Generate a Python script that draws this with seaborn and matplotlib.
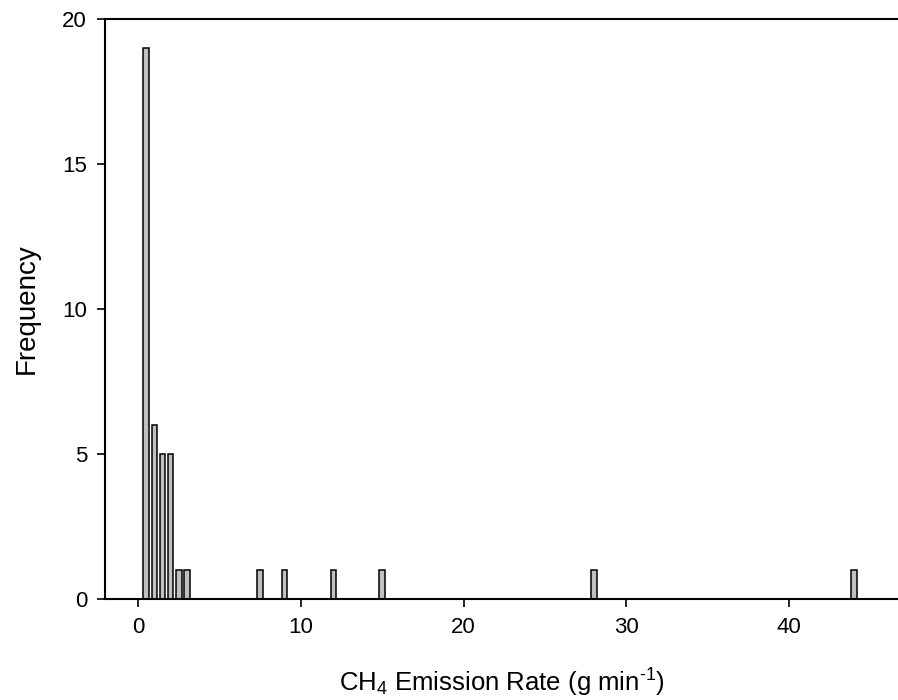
from matplotlib import pyplot as plt
import seaborn as sns
import pandas as pd

# emission rate bins (g/min) and counts
rates = [0.5, 1.0, 1.5, 2.0, 2.5, 3.0, 7.5, 9.0, 12.0, 15.0, 28.0, 44.0]
counts = [19, 6, 5, 5, 1, 1, 1, 1, 1, 1, 1, 1]
x_ticks = [0, 10, 20, 30, 40]
y_ticks = [0, 5, 10, 15, 20]

sns.set_style('ticks')
plt.rcParams['font.family'] = ['Liberation Sans', 'DejaVu Sans']
plt.rcParams['mathtext.fontset'] = 'custom'
plt.rcParams['mathtext.rm'] = 'Liberation Sans'
plt.rcParams['mathtext.it'] = 'Liberation Sans:italic'

df = pd.DataFrame({'rate': rates, 'count': counts})

fig = plt.figure(figsize=(8.98, 7.0), dpi=100)
ax = fig.add_axes([0.117, 0.1443, 0.883, 0.8286])

sns.barplot(x='rate', y='count', data=df, native_scale=True, width=0.7,
            color='#c0c0c0', saturation=1, edgecolor='black', linewidth=1.1,
            ax=ax)

ax.set_xlim(-2.03, 46.7)
ax.set_ylim(0, 20)
ax.set_xticks(x_ticks)
ax.set_yticks(y_ticks)
ax.tick_params(axis='both', direction='out', length=6, width=1.2,
               labelsize=16, pad=7, color='black', labelcolor='black')

for side in ['left', 'top', 'bottom']:
    ax.spines[side].set_linewidth(1.5)
    ax.spines[side].set_color('black')
ax.spines['right'].set_visible(False)

ax.set_xlabel('CH$_4$ Emission Rate (g min$^{\\text{-1}}$)', fontsize=18.5,
              labelpad=21, color='black')
ax.set_ylabel('Frequency', fontsize=20, labelpad=16, color='black')

fig.savefig('out.png', dpi=100)
